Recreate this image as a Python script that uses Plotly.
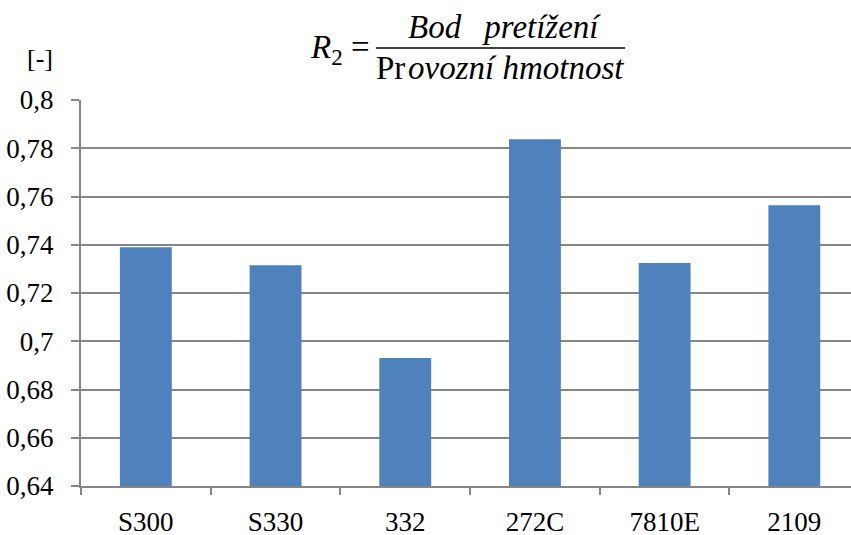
import plotly.graph_objects as go

categories = ["S300", "S330", "332", "272C", "7810E", "2109"]
values = [0.739, 0.7315, 0.6931, 0.7837, 0.7324, 0.7564]
y_tickvals = [0.64, 0.66, 0.68, 0.70, 0.72, 0.74, 0.76, 0.78, 0.80]
y_ticktext = ["0,64", "0,66", "0,68", "0,7", "0,72", "0,74", "0,76", "0,78", "0,8"]

W, H = 851, 535
L, R, T, B = 81, 0, 100, 49
pw = W - L - R
ph = H - T - B

def px(x):
    return (x - L) / pw

def py(y):
    return (H - B - y) / ph

FONT = "Liberation Serif"
GRID = "#868686"
TS = 27
FS = 33

fig = go.Figure()
fig.add_trace(go.Bar(
    x=categories, y=values,
    marker=dict(color="#4F81BD", line=dict(width=0)),
    width=0.4,
))

fig.update_layout(
    width=W, height=H,
    margin=dict(l=L, r=R, t=T, b=B, pad=0, autoexpand=False),
    paper_bgcolor="white", plot_bgcolor="white",
    showlegend=False,
    font=dict(family=FONT, size=TS, color="#000000"),
    bargap=0.6,
)

fig.update_xaxes(
    range=[-0.5, 5.437],
    automargin=False,
    showgrid=False,
    showline=True, linecolor=GRID, linewidth=2,
    ticks="outside", tickson="boundaries", ticklen=7, tickwidth=2, tickcolor=GRID,
    tickfont=dict(family=FONT, size=TS, color="#000"),
    ticklabelstandoff=11,
    fixedrange=True,
)
fig.update_yaxes(
    range=[0.64, 0.80],
    automargin=False,
    tickvals=y_tickvals, ticktext=y_ticktext,
    showgrid=True, gridcolor=GRID, gridwidth=2,
    showline=True, linecolor=GRID, linewidth=2,
    ticks="outside", ticklen=8, tickwidth=2, tickcolor=GRID,
    tickfont=dict(family=FONT, size=TS, color="#000"),
    ticklabelstandoff=12,
    zeroline=False,
)

ann = []
ann.append(dict(text="[-]", x=px(40), y=py(58), xref="paper", yref="paper",
                showarrow=False, xanchor="center", yanchor="middle",
                font=dict(family=FONT, size=26, color="#000")))
ann.append(dict(text="<i>R</i><sub>2</sub> =", x=px(372), y=py(50), xref="paper", yref="paper",
                showarrow=False, xanchor="right", yanchor="middle",
                font=dict(family=FONT, size=FS, color="#000")))
ann.append(dict(text="<i>Bod&nbsp;&#8201; pretížení</i>", x=px(504), y=py(27), xref="paper", yref="paper",
                showarrow=False, xanchor="center", yanchor="middle",
                font=dict(family=FONT, size=FS, color="#000")))
ann.append(dict(text="Pr<i>&#8202;ovozní hmotnost</i>", x=px(500), y=py(68), xref="paper", yref="paper",
                showarrow=False, xanchor="center", yanchor="middle",
                font=dict(family=FONT, size=FS, color="#000")))
fig.update_layout(annotations=ann)
fig.add_shape(type="line", xref="paper", yref="paper",
              x0=px(376), x1=px(625), y0=py(48), y1=py(48),
              line=dict(color="#000", width=1.5))

fig.write_html("out.html", config={"displayModeBar": False},
               post_script="document.body.style.margin='0';document.body.style.padding='0';document.body.style.overflow='hidden';")
